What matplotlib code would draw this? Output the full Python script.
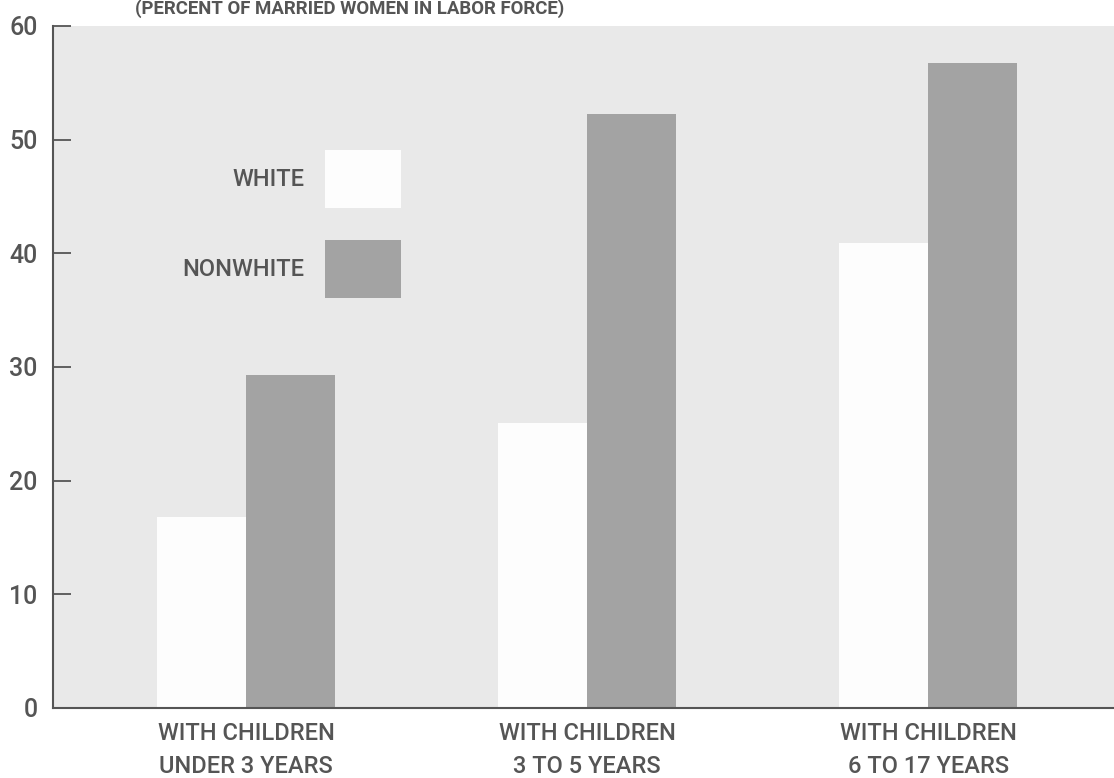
import numpy as np
import matplotlib
matplotlib.use("Agg")
import matplotlib.pyplot as plt

plt.rcParams['font.family'] = ['Roboto', 'DejaVu Sans']

# данные
groups = ['WITH CHILDREN\nUNDER 3 YEARS', 'WITH CHILDREN\n3 TO 5 YEARS', 'WITH CHILDREN\n6 TO 17 YEARS']
white = [16.8, 25.1, 40.9]
nonwhite = [29.3, 52.3, 56.7]
yticks = [0, 10, 20, 30, 40, 50, 60]

ink = '#555555'
bg = '#e9e9e9'
dark = '#a3a3a3'

fig = plt.figure(figsize=(11.14, 7.78), dpi=100)
ax = fig.add_axes([0.0476, 0.09, 0.9524, 0.8766])
ax.set_facecolor(bg)

x = np.arange(len(groups))
w = 0.26
ax.bar(x - w / 2, white, w, color='#fdfdfd', label='WHITE')
ax.bar(x + w / 2, nonwhite, w, color=dark, label='NONWHITE')

ax.set_xlim(-0.566, 2.545)
ax.set_ylim(0, 60)
ax.set_yticks(yticks)
ax.set_xticks(x)
ax.set_xticklabels(groups, fontsize=17, color=ink, linespacing=1.55,
                   fontweight='medium')
ax.tick_params(axis='y', direction='in', length=13, width=1.3, color=ink,
               labelsize=18, labelcolor=ink, pad=11)
for t in ax.get_yticklabels():
    t.set_fontweight('medium')
ax.tick_params(axis='x', length=0, pad=10)

for s in ['top', 'right']:
    ax.spines[s].set_visible(False)
for s in ['left', 'bottom']:
    ax.spines[s].set_color(ink)
    ax.spines[s].set_linewidth(1.5)

leg = ax.legend(loc='upper right', bbox_to_anchor=(0.328, 0.818), frameon=False,
                markerfirst=False, fontsize=17, labelcolor=ink,
                handlelength=3.2, handleheight=3.4, handletextpad=0.9,
                labelspacing=1.35, borderpad=0, borderaxespad=0)
for t in leg.get_texts():
    t.set_fontweight('medium')

fig.text(0.121, 0.982, '(PERCENT OF MARRIED WOMEN IN LABOR FORCE)',
         ha='left', va='baseline', fontsize=13.4, fontweight='bold', color=ink)

fig.savefig('out.png', dpi=100)
